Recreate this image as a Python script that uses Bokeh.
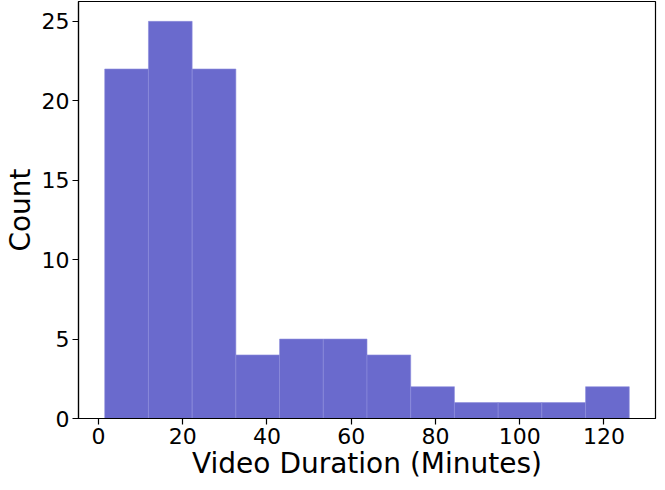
from bokeh.plotting import figure
from bokeh.models import Range1d, SingleIntervalTicker, ColumnDataSource
from bokeh.embed import file_html
from bokeh.resources import INLINE

# Histogram data
counts = [22, 25, 22, 4, 5, 5, 4, 2, 1, 1, 1, 2]
bin_start = 1.5
bin_end = 126.0
x_label = "Video Duration (Minutes)"
y_label = "Count"

n = len(counts)
w = (bin_end - bin_start) / n
lefts = [bin_start + i * w for i in range(n)]
rights = [bin_start + (i + 1) * w for i in range(n)]

src = ColumnDataSource(dict(left=lefts, right=rights, top=counts, bottom=[0] * n))

span = bin_end - bin_start
p = figure(width=657, height=482, output_backend="svg", toolbar_location=None,
           x_range=Range1d(bin_start - 0.05 * span, bin_end + 0.05 * span),
           y_range=Range1d(0, max(counts) * 1.05),
           min_border_top=1, min_border_right=2, min_border_left=0, min_border_bottom=0)

p.quad(left="left", right="right", top="top", bottom="bottom", source=src,
       fill_color="#6a6acd", fill_alpha=1.0, line_color="#8c8cdc", line_width=1, line_alpha=0.6)

p.xgrid.visible = False
p.ygrid.visible = False
p.outline_line_color = "black"
p.outline_line_width = 1.2
p.background_fill_color = "white"
p.border_fill_color = "white"

p.xaxis.ticker = SingleIntervalTicker(interval=20, num_minor_ticks=0)
p.yaxis.ticker = SingleIntervalTicker(interval=5, num_minor_ticks=0)

for ax in (p.xaxis[0], p.yaxis[0]):
    ax.axis_line_color = "black"
    ax.axis_line_width = 1.2
    ax.major_tick_line_color = "black"
    ax.major_tick_line_width = 1.2
    ax.major_tick_out = 6
    ax.major_tick_in = 0
    ax.minor_tick_line_color = None
    ax.major_label_text_font = "DejaVu Sans"
    ax.major_label_text_font_size = "22px"
    ax.major_label_text_color = "black"
    ax.axis_label_text_font = "DejaVu Sans"
    ax.axis_label_text_font_size = "28px"
    ax.axis_label_text_font_style = "normal"
    ax.axis_label_text_color = "black"

p.xaxis.axis_label = x_label
p.yaxis.axis_label = y_label
p.xaxis.major_label_standoff = 3
p.yaxis.major_label_standoff = 3
p.xaxis.axis_label_standoff = 0
p.yaxis.axis_label_standoff = 2

open("out.html", "w").write(file_html(p, INLINE))
